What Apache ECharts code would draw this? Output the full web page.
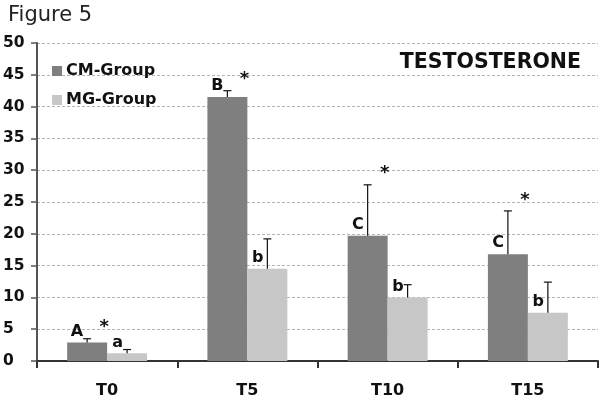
<!DOCTYPE html>
<html>
<head>
<meta charset="utf-8">
<script src="https://cdn.jsdelivr.net/npm/echarts@6/dist/echarts.min.js"></script>
<style>
  html, body { margin: 0; padding: 0; background: #fff; }
  #chart { width: 602px; height: 401px; }
</style>
</head>
<body>
<div id="chart"></div>
<script>
// Sampling times
const categories = ['T0', 'T5', 'T10', 'T15'];

// Testosterone means and SD per group
const cmMean = [2.9, 41.5, 19.7, 16.8];
const cmSD   = [0.6, 1.0, 8.0, 6.8];
const mgMean = [1.2, 14.5, 10.0, 7.6];
const mgSD   = [0.6, 4.7, 2.0, 4.8];

// Significance letters and markers
const cmLetters = ['A', 'B', 'C', 'C'];
const mgLetters = ['a', 'b', 'b', 'b'];
const starMarks = ['*', '*', '*', '*'];

const FONT = '"DejaVu Sans", "Liberation Sans", Arial, sans-serif';
const BAR_FRACTION = 0.285;

const chart = echarts.init(document.getElementById('chart'), null, { renderer: 'canvas' });

// One-sided error bar with a letter to its left
function errorRenderer(letters, side) {
  return function (params, api) {
    const i = api.value(0);
    const mean = api.value(1);
    const sd = api.value(2);
    const catW = api.size([1, 0])[0];
    const bw = catW * BAR_FRACTION;
    const base = api.coord([i, mean]);
    const top = api.coord([i, mean + sd]);
    const x = base[0] + side * bw / 2;
    const cap = 4;
    return {
      type: 'group',
      children: [
        { type: 'line', shape: { x1: x, y1: base[1], x2: x, y2: top[1] },
          style: { stroke: '#111', lineWidth: 1.2 } },
        { type: 'line', shape: { x1: x - cap, y1: top[1], x2: x + cap, y2: top[1] },
          style: { stroke: '#111', lineWidth: 1.2 } },
        { type: 'text', x: x - 4, y: base[1] - 3,
          style: { text: letters[i], font: 'bold 16px ' + FONT, fill: '#111',
                   align: 'right', verticalAlign: 'bottom' } }
      ]
    };
  };
}

function starRenderer(params, api) {
  const i = api.value(0);
  const top = api.coord([i, api.value(1)]);
  return {
    type: 'text', x: top[0] - 3, y: top[1] - 20,
    style: { text: starMarks[i], font: 'bold 18px ' + FONT, fill: '#111',
             align: 'center', verticalAlign: 'top' }
  };
}

const option = {
  animation: false,
  backgroundColor: '#fff',
  grid: { left: 36, right: 4, top: 43, bottom: 40, containLabel: false },
  legend: {
    data: ['CM-Group', 'MG-Group'],
    orient: 'vertical',
    left: 47, top: 58,
    itemWidth: 10, itemHeight: 10,
    itemGap: 13,
    icon: 'rect',
    textStyle: { fontFamily: FONT, fontWeight: 'bold', fontSize: 16, color: '#111', padding: [0, 0, 0, -1] }
  },
  graphic: [
    { type: 'text', left: 8, top: 5,
      style: { text: 'Figure 5', font: '21px ' + FONT, fill: '#222' } },
    { type: 'text', right: 21, top: 52,
      style: { text: 'TESTOSTERONE', font: 'bold 20.5px ' + FONT, fill: '#111' } }
  ],
  xAxis: {
    type: 'category',
    data: categories,
    axisLine: { lineStyle: { color: '#333', width: 2 } },
    axisTick: { show: true, length: 7, inside: false, lineStyle: { color: '#333', width: 2 } },
    axisLabel: { margin: 22, fontFamily: FONT, fontWeight: 'bold', fontSize: 16, color: '#111' },
    splitLine: { show: false }
  },
  yAxis: {
    type: 'value',
    min: 0, max: 50, interval: 5,
    axisLine: { show: true, lineStyle: { color: '#555', width: 2 } },
    axisTick: { show: true, length: 6, lineStyle: { color: '#555', width: 1.5 } },
    axisLabel: { align: 'left', margin: 34, fontFamily: FONT, fontWeight: 'bold', fontSize: 15.5, color: '#111' },
    splitLine: { show: true, lineStyle: { color: '#b4b4b4', type: [3, 2], width: 1 } }
  },
  series: [
    {
      name: 'CM-Group', type: 'bar',
      data: cmMean,
      barWidth: (BAR_FRACTION * 100) + '%',
      barGap: '0%',
      itemStyle: { color: '#7f7f7f' },
      z: 2
    },
    {
      name: 'MG-Group', type: 'bar',
      data: mgMean,
      barWidth: (BAR_FRACTION * 100) + '%',
      barGap: '0%',
      itemStyle: { color: '#c6c7c6' },
      z: 2
    },
    {
      name: 'cm-error', type: 'custom',
      renderItem: errorRenderer(cmLetters, -1),
      data: categories.map((c, i) => [i, cmMean[i], cmSD[i]]),
      encode: { x: 0, y: 1 },
      z: 5, silent: true
    },
    {
      name: 'mg-error', type: 'custom',
      renderItem: errorRenderer(mgLetters, 1),
      data: categories.map((c, i) => [i, mgMean[i], mgSD[i]]),
      encode: { x: 0, y: 1 },
      z: 5, silent: true
    },
    {
      name: 'stars', type: 'custom',
      renderItem: starRenderer,
      data: categories.map((c, i) => [i, cmMean[i] + cmSD[i]]),
      encode: { x: 0, y: 1 },
      z: 5, silent: true
    }
  ]
};

chart.setOption(option);
</script>
</body>
</html>
